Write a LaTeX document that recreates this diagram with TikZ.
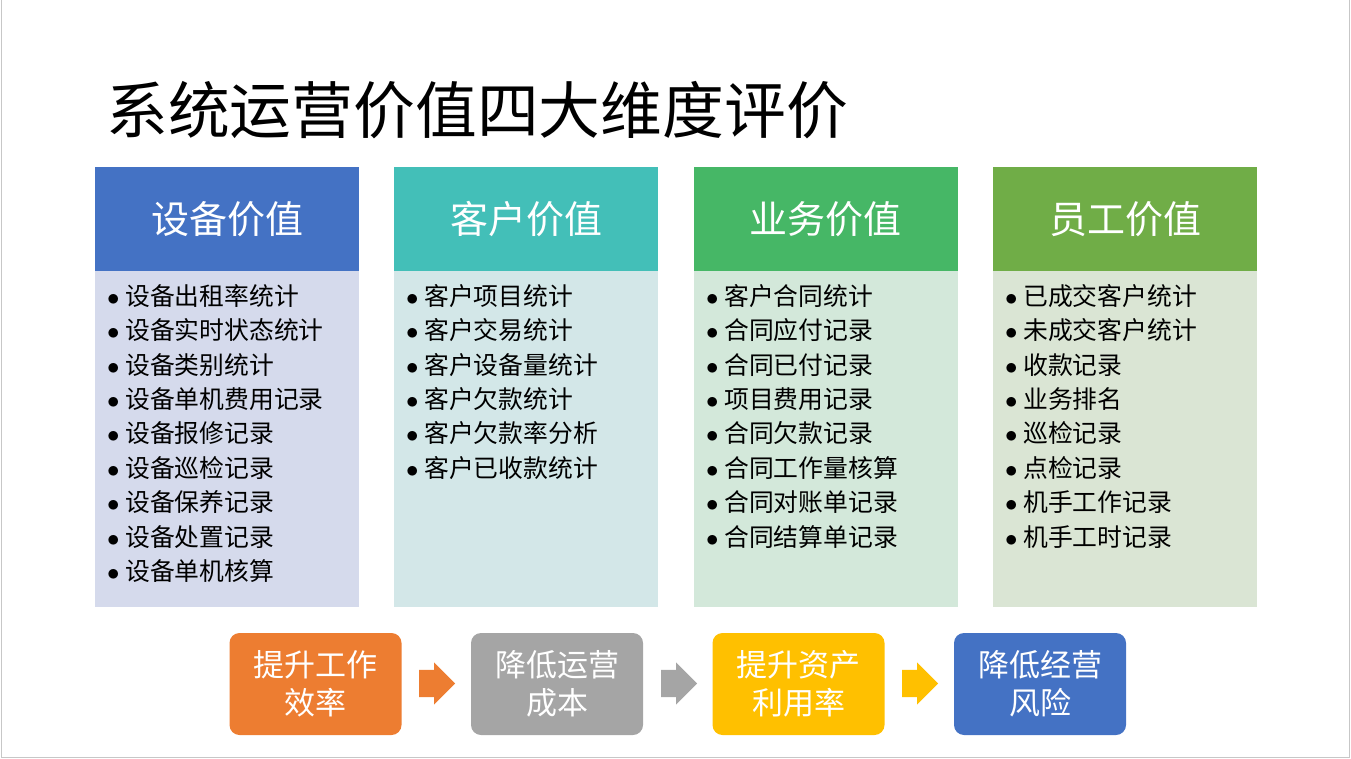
\documentclass[tikz,border=0pt]{standalone}
\usepackage{fontspec}
\setmainfont{Noto Sans CJK SC}
\usetikzlibrary{shapes.arrows}

\definecolor{blueH}{HTML}{4472C4}
\definecolor{tealH}{HTML}{43BFB8}
\definecolor{greenH}{HTML}{46B766}
\definecolor{oliveH}{HTML}{70AD47}
\definecolor{blueB}{HTML}{D5DAEC}
\definecolor{tealB}{HTML}{D3E7E8}
\definecolor{greenB}{HTML}{D3E8DA}
\definecolor{oliveB}{HTML}{DAE5D4}
\definecolor{orangeG}{HTML}{ED7D31}
\definecolor{greyG}{HTML}{A5A5A5}
\definecolor{goldG}{HTML}{FFC000}

\newcommand{\itm}{\makebox[18pt][l]{$\bullet$}}

\tikzset{
  head/.style={minimum width=264pt, minimum height=104pt, inner sep=0pt,
    text=white, font=\fontsize{38}{40}\selectfont},
  body/.style={minimum width=264pt, minimum height=336pt, inner sep=0pt, anchor=north},
  list/.style={anchor=north west, inner sep=0pt, align=left,
    font=\fontsize{24.8}{34.4}\selectfont},
  goal/.style={rounded corners=10pt, minimum width=172pt, minimum height=102pt,
    inner sep=0pt, align=center, text=white, font=\fontsize{31}{38}\selectfont},
  blockarrow/.style={single arrow, minimum height=36pt, minimum width=42pt,
    inner xsep=0pt, inner ysep=13.5pt, single arrow head extend=7.5pt,
    anchor=tail, draw=none},
}

\begin{document}
\begin{tikzpicture}[x=1pt, y=-1pt]
  \useasboundingbox (0,0) rectangle (1351,759);
  \draw[black!22, line width=1pt] (1,0) -- (1,757.5) -- (1349.5,757.5) -- (1349.5,0);

  \node[anchor=west, inner sep=0pt, font=\fontsize{61.8}{64}\selectfont] (title) at (106,110) {系统运营价值四大维度评价};

  \node[head, fill=blueH] (h1) at (227,219) {设备价值};
  \node[head, fill=tealH] (h2) at (526,219) {客户价值};
  \node[head, fill=greenH] (h3) at (825.5,219) {业务价值};
  \node[head, fill=oliveH] (h4) at (1125,219) {员工价值};

  \node[body, fill=blueB] (b1) at (h1.south) {};
  \node[body, fill=tealB] (b2) at (h2.south) {};
  \node[body, fill=greenB] (b3) at (h3.south) {};
  \node[body, fill=oliveB] (b4) at (h4.south) {};

  \node[list] (l1) at (107,284) {\itm 设备出租率统计\\ \itm 设备实时状态统计\\ \itm 设备类别统计\\ \itm 设备单机费用记录\\ \itm 设备报修记录\\ \itm 设备巡检记录\\ \itm 设备保养记录\\ \itm 设备处置记录\\ \itm 设备单机核算};
  \node[list] (l2) at (406,284) {\itm 客户项目统计\\ \itm 客户交易统计\\ \itm 客户设备量统计\\ \itm 客户欠款统计\\ \itm 客户欠款率分析\\ \itm 客户已收款统计};
  \node[list] (l3) at (706,284) {\itm 客户合同统计\\ \itm 合同应付记录\\ \itm 合同已付记录\\ \itm 项目费用记录\\ \itm 合同欠款记录\\ \itm 合同工作量核算\\ \itm 合同对账单记录\\ \itm 合同结算单记录};
  \node[list] (l4) at (1005,284) {\itm 已成交客户统计\\ \itm 未成交客户统计\\ \itm 收款记录\\ \itm 业务排名\\ \itm 巡检记录\\ \itm 点检记录\\ \itm 机手工作记录\\ \itm 机手工时记录};

  \node[goal, fill=orangeG] (g1) at (315.5,684) {提升工作\\效率};
  \node[goal, fill=greyG] (g2) at (557,684) {降低运营\\成本};
  \node[goal, fill=goldG] (g3) at (798.5,684) {提升资产\\利用率};
  \node[goal, fill=blueH] (g4) at (1040,684) {降低经营\\风险};

  \node[blockarrow, fill=orangeG] (a1) at (419,683.5) {};
  \node[blockarrow, fill=greyG] (a2) at (661,683.5) {};
  \node[blockarrow, fill=goldG] (a3) at (902,683.5) {};
\end{tikzpicture}
\end{document}
